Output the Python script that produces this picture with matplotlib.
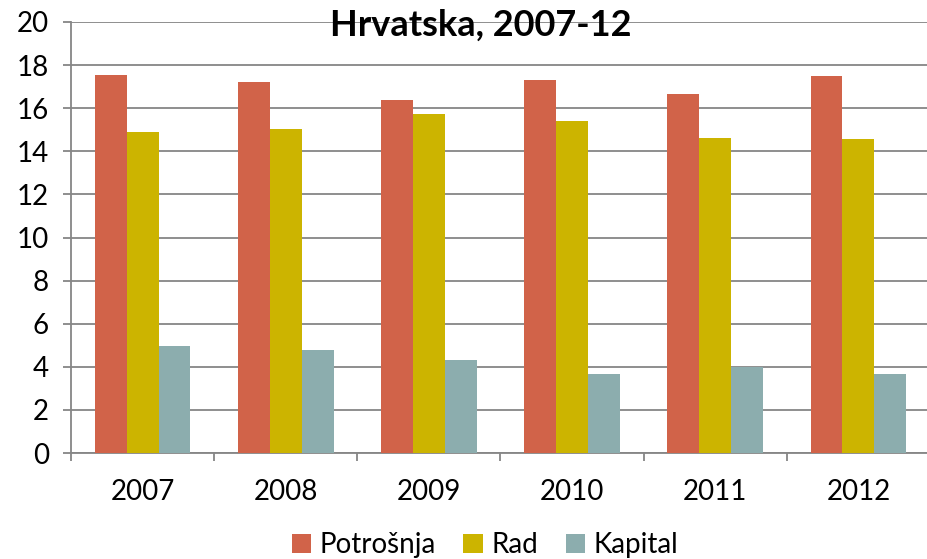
import matplotlib
matplotlib.use("Agg")
import matplotlib.pyplot as plt
import numpy as np
from matplotlib.ticker import FixedLocator, NullFormatter

years = ["2007", "2008", "2009", "2010", "2011", "2012"]
potrosnja = [17.55, 17.2, 16.4, 17.3, 16.65, 17.5]
rad = [14.9, 15.05, 15.75, 15.4, 14.6, 14.55]
kapital = [4.97, 4.78, 4.32, 3.68, 4.0, 3.68]
series_names = ["Potrošnja", "Rad", "Kapital"]
colors = ["#D16349", "#CCB400", "#8CADAE"]
yticks = list(range(0, 21, 2))

plt.rcParams['font.family'] = ['Lato', 'DejaVu Sans']

fig = plt.figure(figsize=(9.28, 5.59), dpi=100)
ax = fig.add_axes([71/928, 1-453/559, (930-71)/928, (453-22)/559])

x = np.arange(len(years))
w = 0.223
for i, (vals, name, c) in enumerate(zip([potrosnja, rad, kapital], series_names, colors)):
    ax.bar(x + (i - 1) * w, vals, width=w, color=c, label=name, zorder=3)

ax.set_xlim(-0.5, len(years) - 0.5)
ax.set_ylim(0, 20)
ax.set_yticks(yticks)
ax.set_yticklabels([str(t) for t in yticks])
ax.yaxis.grid(True, color="#868686", linewidth=1.3, zorder=0)
ax.set_axisbelow(True)

ax.set_xticks(x)
ax.set_xticklabels(years)
ax.xaxis.set_minor_locator(FixedLocator(np.arange(-0.5, len(years), 1.0)))
ax.xaxis.set_minor_formatter(NullFormatter())
ax.tick_params(axis='x', which='major', length=0, pad=19, labelsize=20, colors="#000000")
ax.tick_params(axis='x', which='minor', length=6, width=1.3, color="#868686", direction='out')
ax.tick_params(axis='y', length=6, width=1.3, color="#868686", pad=10, labelsize=20)

for s in ["top", "right"]:
    ax.spines[s].set_visible(False)
for s in ["left", "bottom"]:
    ax.spines[s].set_color("#868686")
    ax.spines[s].set_linewidth(1.3)

ax.text(0.477, 0.993, "Hrvatska, 2007-12", transform=ax.transAxes, ha="center", va="center",
        fontsize=26, fontweight="bold", zorder=5)

leg = fig.legend(loc="center", bbox_to_anchor=(485/928, 1-545/559), ncol=3, frameon=False,
                 fontsize=20, handlelength=0.7, handleheight=0.7, handletextpad=0.3,
                 columnspacing=1.0)

fig.savefig("out.png", dpi=100)
